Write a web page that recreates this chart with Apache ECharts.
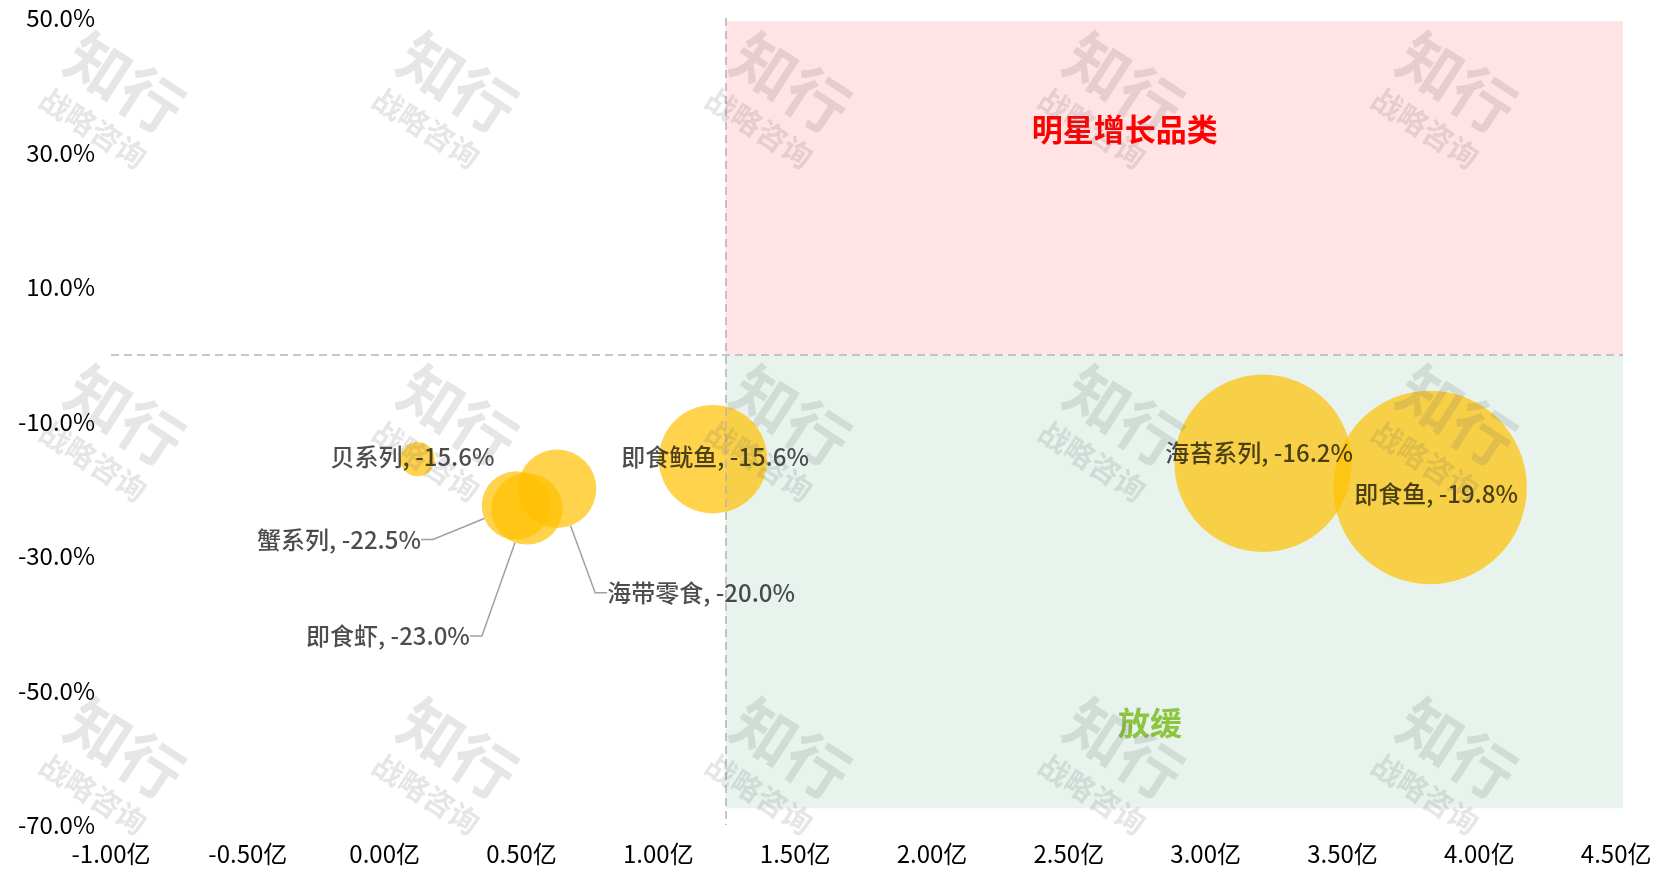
<!DOCTYPE html>
<html>
<head>
<meta charset="utf-8">
<script src="https://cdn.jsdelivr.net/npm/echarts@6/dist/echarts.min.js"></script>
<style>
html,body{margin:0;padding:0;background:#fff;}
#chart{width:1658px;height:871px;}
</style>
</head>
<body>
<div id="chart"></div>
<script>
// ---- data ----
const names  = ['贝系列', '蟹系列', '即食虾', '海带零食', '即食鱿鱼', '海苔系列', '即食鱼'];
const sales  = [0.12, 0.48, 0.52, 0.63, 1.20, 3.21, 3.82];      // 亿
const growth = [-15.6, -22.5, -23.0, -20.0, -15.6, -16.2, -19.8]; // %
const xRange = [-1, 4.525];
const xLabelStep = 0.5;
const yRange = [-70, 50];
const yLabelTicks = [-70, -50, -30, -10, 10, 30, 50];
const dividerX = 1.245;
const dividerY = 0;
const quadrantNames = ['明星增长品类', '放缓'];

// ---- layout / style (not data) ----
const FONT = "'Microsoft YaHei','Noto Sans CJK SC','Noto Sans',sans-serif";
const labelShift = {
  0: {dx: -5, dy: -2},
  1: {dx: -177, dy: 34},
  2: {dx: -139, dy: 127},
  3: {dx: 144, dy: 104},
  4: {dx: 2, dy: -2},
  5: {dx: -4, dy: -10},
  6: {dx: 6, dy: 6}
};
const withLine = {1: true, 2: true, 3: true};

const chart = echarts.init(document.getElementById('chart'));

const points = names.map((n, i) => ({
  name: n,
  value: [sales[i], growth[i]],
  labelLine: {show: !!withLine[i]}
}));

// watermark
const wm = [];
const wmCols = [125, 458, 791, 1124, 1457];
const wmRows = [83, 416, 749];
const wmFill = 'rgba(100,100,100,0.16)';
wmRows.forEach(y => wmCols.forEach(x => {
  wm.push({
    type: 'group', x: x, y: y, rotation: -33 * Math.PI / 180, z: 100, silent: true,
    children: [
      {type: 'text', x: 0, y: 0, z: 100, silent: true, style: {text: '知行', font: "bold 62px " + FONT, fill: wmFill, align: 'center', verticalAlign: 'middle'}},
      {type: 'text', x: -2, y: 55, z: 100, silent: true, style: {text: '战略咨询', font: "bold 30px " + FONT, fill: wmFill, align: 'center', verticalAlign: 'middle'}}
    ]
  });
}));

const isStep = v => Math.abs(Math.round(v / xLabelStep) * xLabelStep - v) < 1e-6;

const option = {
  backgroundColor: '#fff',
  textStyle: {fontFamily: FONT},
  grid: {left: 111, right: 35, top: 18, bottom: 46, containLabel: false, outerBoundsMode: 'none'},
  xAxis: {
    type: 'value', min: xRange[0], max: xRange[1], interval: xLabelStep,
    axisLine: {show: false}, axisTick: {show: false}, splitLine: {show: false},
    axisLabel: {fontSize: 24, color: '#000', margin: 17, fontFamily: FONT,
      showMaxLabel: true,
      formatter: v => isStep(v) ? v.toFixed(2) + '亿' : ''}
  },
  yAxis: {
    type: 'value', min: yRange[0], max: yRange[1], interval: 10,
    axisLine: {show: false}, axisTick: {show: false}, splitLine: {show: false},
    axisLabel: {fontSize: 24, color: '#000', margin: 16, fontFamily: FONT,
      formatter: v => yLabelTicks.indexOf(Math.round(v)) >= 0 ? v.toFixed(1) + '%' : ''}
  },
  graphic: {elements: wm},
  series: [{
    type: 'scatter',
    clip: false,
    z: 2,
    data: points,
    symbol: 'circle',
    symbolSize: v => Math.sqrt(v[0]) * 99,
    itemStyle: {color: '#FFC000', opacity: 0.7},
    emphasis: {disabled: true},
    label: {
      show: true, position: 'inside', color: '#000000', fontSize: 24, fontWeight: 500, fontFamily: FONT,
      padding: [0, 9],
      formatter: p => p.name + ', ' + p.value[1].toFixed(1) + '%'
    },
    labelLine: {show: false, length2: 12, lineStyle: {color: '#a0a0a0', width: 1.5}},
    labelLayout: p => labelShift[p.dataIndex] || {},
    markArea: {
      silent: true,
      data: [
        [{coord: [dividerX, 49.5], itemStyle: {color: '#FFE3E5'},
          label: {show: true, position: ['44.5%', '32.4%'], align: 'center', verticalAlign: 'middle',
            color: '#FF0000', fontSize: 31, fontWeight: 'bold', fontFamily: FONT},
          name: quadrantNames[0]},
         {coord: [xRange[1], dividerY]}],
        [{coord: [dividerX, dividerY], itemStyle: {color: '#E8F3EE'},
          label: {show: true, position: ['47.3%', '81.2%'], align: 'center', verticalAlign: 'middle',
            color: '#8CC63F', fontSize: 32, fontWeight: 'bold', fontFamily: FONT},
          name: quadrantNames[1]},
         {coord: [xRange[1], -67.5]}]
      ]
    },
    markLine: {
      silent: true, symbol: 'none', label: {show: false},
      lineStyle: {color: '#b4b4b4', type: [8, 5], width: 1.5},
      data: [
        [{coord: [dividerX, yRange[1]]}, {coord: [dividerX, yRange[0]]}],
        [{coord: [xRange[0], dividerY]}, {coord: [xRange[1], dividerY]}]
      ]
    }
  }]
};
chart.setOption(option);
</script>
</body>
</html>
